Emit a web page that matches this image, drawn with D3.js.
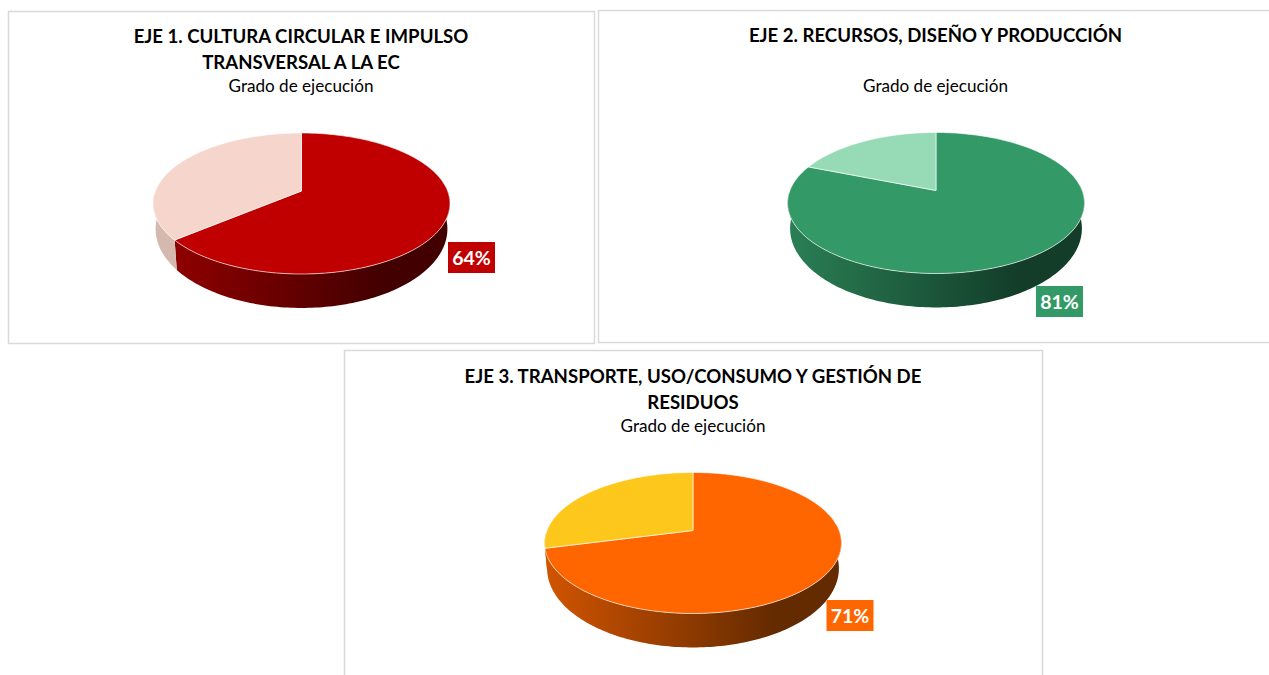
<!DOCTYPE html>
<html>
<head lang="en">
    <meta charset="UTF-8">
    <title>Grado de ejecución</title>
    <style>
        html, body { margin: 0; padding: 0; background: #fff; overflow: hidden; }
        text { font-family: Lato, "Noto Sans", sans-serif; }
    </style>
</head>
<body>

<script src="https://cdn.jsdelivr.net/npm/d3@7"></script>
<script>

    // data
    var ejes = ['eje1', 'eje2', 'eje3'];
    var titulos = [
        ['EJE 1. CULTURA CIRCULAR E IMPULSO', 'TRANSVERSAL A LA EC'],
        ['EJE 2. RECURSOS, DISEÑO Y PRODUCCIÓN'],
        ['EJE 3. TRANSPORTE, USO/CONSUMO Y GESTIÓN DE', 'RESIDUOS']
    ];
    var subtitulo = 'Grado de ejecución';
    var ejecutado = [64, 81, 71];
    var pendiente = [36, 19, 29];

    // colours: [done, rest, side left, side right, rest side]
    var colores = [
        ['#c00000', '#f5d5cc', '#960000', '#420000', '#d6b9ae'],
        ['#339966', '#97dab6', '#2a7f55', '#133d29', '#7fb89a'],
        ['#ff6600', '#fdc71c', '#d15400', '#642a00', '#cf5500']
    ];

    // panels, pie centres and label boxes
    var paneles = [
        {x: 8.5, y: 11.5, w: 586, h: 332, cx: 301.5, ay: 191, tx: 301, ty: [43, 69], sy: 92, lx: 448, ly: 242},
        {x: 598.5, y: 10.5, w: 680, h: 332, cx: 936, ay: 190.5, tx: 935.5, ty: [42], sy: 92, lx: 1036, ly: 286},
        {x: 344.5, y: 350.5, w: 698, h: 340, cx: 693, ay: 530.5, tx: 693, ty: [383, 409], sy: 432, lx: 826.5, ly: 600}
    ];

    var w = 1269,
        h = 675;

    // the tilted disc: a circle seen in perspective
    var m = 146.1,   // horizontal size
        k = 68.3,    // vertical size
        p = 0.177,   // perspective
        lowM = 143.6,  // same for the lower edge of the rim
        lowK = 76.5,
        lowY = 24;

    var svg = d3.select('body')
            .append('svg')
            .attr('width', w)
            .attr('height', h);

    var defs = svg.append('defs');

    var pie = d3.pie().sort(null).value(function(d) { return d; });

    var line = d3.line()
            .x(function(d) { return d[0]; })
            .y(function(d) { return d[1]; });

    function upperRim(panel, a) {
        var X = Math.sin(a), Y = -Math.cos(a), q = 1 - p * Y;
        return [panel.cx + m * X / q, panel.ay + k * Y / q];
    }

    function lowerRim(panel, a) {
        var X = Math.sin(a), Y = -Math.cos(a), q = 1 - p * Y;
        return [panel.cx + lowM * X / q, panel.ay + lowY + lowK * Y / q];
    }

    function steps(a0, a1) {
        var n = Math.max(2, Math.ceil((a1 - a0) / 0.02));
        return d3.range(n + 1).map(function(i) { return a0 + (a1 - a0) * i / n; });
    }

    var sideFrom = 85 * Math.PI / 180,
        sideTo = 268 * Math.PI / 180;

    ejes.forEach(function(eje, i) {
        var panel = paneles[i];
        var c = colores[i];
        var arcs = pie([ejecutado[i], pendiente[i]]);
        var g = svg.append('g').attr('class', eje);

        g.append('rect')
                .attr('x', panel.x)
                .attr('y', panel.y)
                .attr('width', panel.w)
                .attr('height', panel.h)
                .attr('fill', '#fff')
                .attr('stroke', '#d9d9d9')
                .attr('stroke-width', 1.5);

        g.selectAll('text.titulo')
                .data(titulos[i])
                .enter()
                .append('text')
                .attr('class', 'titulo')
                .attr('x', panel.tx)
                .attr('y', function(d, j) { return panel.ty[j]; })
                .attr('text-anchor', 'middle')
                .attr('font-size', '18.6px')
                .attr('font-weight', 'bold')
                .attr('fill', '#000')
                .text(function(d) { return d; });

        g.append('text')
                .attr('x', panel.tx)
                .attr('y', panel.sy)
                .attr('text-anchor', 'middle')
                .attr('font-size', '17.1px')
                .attr('fill', '#000')
                .text(subtitulo);

        var grad = defs.append('linearGradient')
                .attr('id', 'side-' + eje)
                .attr('gradientUnits', 'userSpaceOnUse')
                .attr('x1', panel.cx - 148)
                .attr('x2', panel.cx + 148)
                .attr('y1', 0)
                .attr('y2', 0);
        grad.append('stop').attr('offset', 0).attr('stop-color', c[2]);
        grad.append('stop').attr('offset', 0.78).attr('stop-color', c[3]);
        grad.append('stop').attr('offset', 1).attr('stop-color', c[3]);

        // the rim, front part of each slice only
        arcs.forEach(function(d, j) {
            var a0 = Math.max(d.startAngle, sideFrom),
                a1 = Math.min(d.endAngle, sideTo);
            if (a1 <= a0) return;
            var along = steps(a0, a1);
            var pts = along.map(function(a) { return upperRim(panel, a); })
                    .concat(along.slice().reverse().map(function(a) { return lowerRim(panel, a); }));
            g.append('path')
                    .attr('d', line(pts) + 'Z')
                    .attr('fill', j === 0 ? 'url(#side-' + eje + ')' : c[4]);
        });

        // the top of the disc
        arcs.forEach(function(d, j) {
            var pts = [[panel.cx, panel.ay]]
                    .concat(steps(d.startAngle, d.endAngle).map(function(a) { return upperRim(panel, a); }));
            g.append('path')
                    .attr('d', line(pts) + 'Z')
                    .attr('fill', c[j])
                    .attr('stroke', '#fff')
                    .attr('stroke-opacity', 0.7)
                    .attr('stroke-width', 0.9)
                    .attr('stroke-linejoin', 'round');
        });

        // label box
        g.append('rect')
                .attr('x', panel.lx)
                .attr('y', panel.ly)
                .attr('width', 47)
                .attr('height', 31)
                .attr('fill', c[0]);

        g.append('text')
                .attr('x', panel.lx + 23.5)
                .attr('y', panel.ly + 22.5)
                .attr('text-anchor', 'middle')
                .attr('font-size', '19.5px')
                .attr('font-weight', 'bold')
                .attr('fill', '#fff')
                .text(ejecutado[i] + '%');
    });

</script>
</body>
</html>
